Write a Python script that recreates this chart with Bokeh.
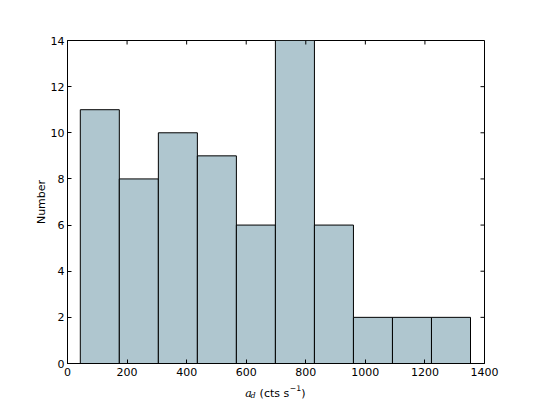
from bokeh.plotting import figure
from bokeh.models import Range1d, FixedTicker, Label
from bokeh.embed import file_html
from bokeh.resources import INLINE

# Data
bin_edges = [43, 174, 305, 436, 567, 698, 829, 960, 1091, 1222, 1353]
counts = [11, 8, 10, 9, 6, 14, 6, 2, 2, 2]
x_ticks = [0, 200, 400, 600, 800, 1000, 1200, 1400]
y_ticks = [0, 2, 4, 6, 8, 10, 12, 14]

FONT = "DejaVu Sans"
FS = "11px"

p = figure(width=538, height=404, output_backend="svg", toolbar_location=None,
           x_range=Range1d(0, 1400), y_range=Range1d(0, 14),
           min_border_left=67, min_border_right=54, min_border_top=40, min_border_bottom=41)
p.grid.visible = False
p.outline_line_color = "black"
p.outline_line_width = 1
p.background_fill_color = "white"
p.border_fill_color = "white"

p.quad(left=bin_edges[:-1], right=bin_edges[1:], bottom=0, top=counts,
       fill_color="#afc6cf", line_color="black", line_width=1)

def style(ax, ticks):
    ax.ticker = FixedTicker(ticks=ticks)
    ax.major_tick_in = 4
    ax.major_tick_out = 0
    ax.minor_tick_line_color = None
    ax.major_tick_line_color = "black"
    ax.axis_line_color = "black"
    ax.major_label_text_font = FONT
    ax.major_label_text_font_size = FS
    ax.major_label_text_color = "black"

style(p.xaxis[0], x_ticks)
p.xaxis[0].major_label_standoff = 4
style(p.yaxis[0], y_ticks)
p.yaxis[0].major_label_standoff = 3
p.yaxis[0].axis_label = "Number"
p.yaxis[0].axis_label_text_font = FONT
p.yaxis[0].axis_label_text_font_size = FS
p.yaxis[0].axis_label_text_font_style = "normal"
p.yaxis[0].axis_label_text_color = "black"
p.yaxis[0].axis_label_standoff = 0

# inward ticks on top and right edges
x_px = 1400 / 417.0
y_px = 14 / 323.0
p.segment(x0=x_ticks, x1=x_ticks, y0=[14] * len(x_ticks),
          y1=[14 - 4 * y_px] * len(x_ticks), line_color="black", line_width=1)
p.segment(x0=[1400] * len(y_ticks), x1=[1400 - 4 * x_px] * len(y_ticks),
          y0=y_ticks, y1=y_ticks, line_color="black", line_width=1)

# x axis label built from pieces: a_d (cts s^-1)
# (held by the empty top / right side panels only so that they are not clipped
#  to the frame; they are drawn at their data positions below the frame)
pieces = [
    ("a", 597, -1.29, "DejaVu Serif", "11px", "italic", "above"),
    ("d", 614, -1.38, "DejaVu Serif", "8px", "italic", "above"),
    ("(cts s", 645, -1.29, FONT, FS, "normal", "right"),
    ("\u22121", 746, -1.08, FONT, "7.7px", "normal", "right"),
    (")", 785, -1.29, FONT, FS, "normal", "right"),
]
for t, x, y, f, s, st, side in pieces:
    p.add_layout(Label(x=x, y=y, text=t, text_font=f, text_font_size=s,
                       text_font_style=st, text_align="left",
                       text_baseline="alphabetic", text_color="black"), side)

open("out.html", "w").write(file_html(p, INLINE))
